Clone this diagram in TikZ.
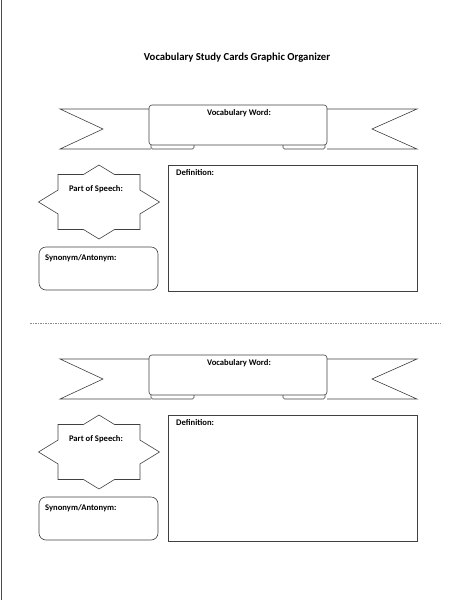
\documentclass[tikz,border=0pt]{standalone}
\usepackage{fontspec}
\setmainfont{Carlito}
\begin{document}
\begin{tikzpicture}[x=1pt,y=-1pt,
	outline/.style={draw=black!75,line width=0.6pt},
	lbl/.style={font=\bfseries\fontsize{8.6}{10}\selectfont,inner sep=0pt}]
	
	\useasboundingbox (0,0) rectangle (448,600);
	\draw[black!70,line width=1.5pt] (1.5,0) -- (1.5,600);
	\node[font=\bfseries\fontsize{10.7}{12}\selectfont] (title) at (237,58) {Vocabulary Study Cards Graphic Organizer};
	\draw[black!45,dash pattern=on 1.5pt off 1pt,line width=0.6pt] (30,323) -- (441,323);
	
	\foreach \i/\dy in {1/0,2/250}{
	\begin{scope}[yshift=-\dy pt]
		% ribbon
		\draw[outline] (149,109) -- (60,109) -- (103,129) -- (60,149) -- (151,149);
		\draw[outline] (327,109) -- (417,109) -- (372,129) -- (417,149) -- (327,149);
		\draw[outline,rounded corners=3pt] (149,145) rectangle (327,105);
		\draw[outline,rounded corners=1.5pt] (151,145) -- (151,149) -- (194,149) -- (194,145);
		\draw[outline,rounded corners=1.5pt] (283,145) -- (283,149) -- (325,149) -- (325,145);
		\node[lbl] (word\i) at (239,113) {Vocabulary Word:};
		% star
		\draw[outline,shift={(99,202)}] (0,-37) -- (15.5,-27.5) -- (41,-27.5) -- (41,-11.9) -- (60.5,0) -- (41,11.9) -- (41,27.5) -- (15.5,27.5) -- (0,37) -- (-15.5,27.5) -- (-41,27.5) -- (-41,11.9) -- (-60.5,0) -- (-41,-11.9) -- (-41,-27.5) -- (-15.5,-27.5) -- cycle;
		\node[lbl] (pos\i) at (96,189) {Part of Speech:};
		% boxes
		\draw[outline,rounded corners=7pt] (39,247) rectangle (158,290);
		\node[lbl,anchor=west] (syn\i) at (45,258) {Synonym/Antonym:};
		\draw[outline] (168,165) rectangle (417,291);
		\node[lbl,anchor=west] (def\i) at (176,173) {Definition:};
	\end{scope}}
	
\end{tikzpicture}
\end{document}
